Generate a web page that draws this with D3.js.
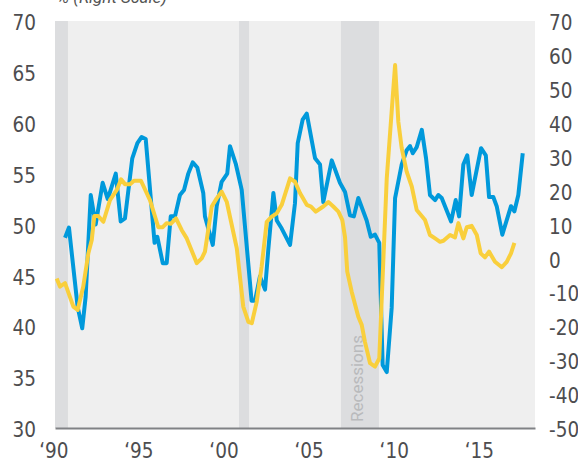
<!DOCTYPE html>
<html>
<head>
<meta charset="utf-8">
<script src="https://cdn.jsdelivr.net/npm/d3@7"></script>
<style>
  html, body { margin: 0; padding: 0; background: #fff; }
  svg { display: block; }
  .tick text { font-family: "Liberation Sans Narrow", "DejaVu Sans Condensed", "Roboto", sans-serif; font-size: 20.5px; fill: #4d4d4f; }
</style>
</head>
<body>
<div id="chart"></div>
<script>
// chart size
const width = 578;
const height = 461;

// quarterly readings, left scale (blue)
const blueYears = [1990.69, 1990.92, 1991.43, 1991.70, 1991.90, 1992.20, 1992.49, 1992.90, 1993.20, 1993.67,
  1993.96, 1994.21, 1994.64, 1994.94, 1995.19, 1995.43, 1995.95, 1996.11, 1996.43, 1996.66,
  1996.90, 1997.15, 1997.44, 1997.68, 1997.93, 1998.19, 1998.46, 1998.81, 1998.91, 1999.37,
  1999.60, 1999.89, 2000.22, 2000.38, 2000.73, 2001.07, 2001.65, 2001.85, 2002.14, 2002.44,
  2002.63, 2002.93, 2003.13, 2003.42, 2003.91, 2004.20, 2004.36, 2004.65, 2004.89, 2005.38,
  2005.67, 2005.86, 2006.36, 2006.84, 2007.14, 2007.43, 2007.66, 2007.92, 2008.41, 2008.65,
  2008.90, 2009.15, 2009.35, 2009.59, 2009.88, 2010.08, 2010.47, 2010.76, 2010.96, 2011.12,
  2011.35, 2011.65, 2011.90, 2012.13, 2012.43, 2012.62, 2012.82, 2013.37, 2013.64, 2013.84,
  2014.09, 2014.32, 2014.58, 2015.13, 2015.41, 2015.60, 2015.85, 2016.05, 2016.38, 2016.89,
  2017.09, 2017.32, 2017.58];
const blueValues = [48.7, 49.7, 41.9, 39.8, 42.9, 52.9, 50.0, 54.1, 52.5, 55.0,
  50.3, 50.6, 56.5, 58.0, 58.6, 58.4, 48.2, 48.8, 46.2, 46.2,
  50.8, 50.8, 52.9, 53.4, 55.0, 56.1, 55.6, 53.1, 50.8, 48.0,
  51.8, 54.2, 55.0, 57.7, 55.9, 53.4, 42.5, 42.5, 44.9, 43.6,
  47.5, 53.1, 50.4, 49.6, 48.0, 52.1, 58.0, 60.3, 60.9, 56.5,
  55.9, 52.2, 56.3, 54.1, 53.2, 50.9, 50.8, 52.6, 50.4, 48.8,
  49.0, 48.2, 36.2, 35.5, 41.8, 52.6, 55.9, 57.3, 57.7, 57.0,
  57.6, 59.3, 56.5, 52.9, 52.4, 52.9, 52.6, 50.3, 52.4, 50.8,
  55.9, 56.8, 52.9, 57.5, 56.8, 52.7, 52.7, 51.8, 49.0, 51.8,
  51.3, 52.9, 57.0];

// quarterly readings, right scale in % (gold)
const goldYears = [1990.20, 1990.39, 1990.69, 1991.18, 1991.43, 1991.76, 1992.06, 1992.26, 1992.41, 1992.64,
  1992.94, 1993.33, 1993.73, 1993.98, 1994.21, 1994.51, 1994.74, 1995.15, 1995.68, 1996.17,
  1996.43, 1996.66, 1996.90, 1997.21, 1997.54, 1997.84, 1998.43, 1998.72, 1998.91, 1999.31,
  1999.60, 1999.89, 2000.19, 2000.78, 2001.16, 2001.46, 2001.66, 2001.95, 2002.24, 2002.54,
  2002.83, 2003.13, 2003.42, 2003.91, 2004.20, 2004.50, 2004.89, 2005.14, 2005.42, 2005.86,
  2006.16, 2006.45, 2006.75, 2006.98, 2007.14, 2007.27, 2007.53, 2007.92, 2008.12, 2008.31,
  2008.61, 2008.90, 2009.15, 2009.59, 2010.08, 2010.27, 2010.47, 2010.76, 2011.06, 2011.35,
  2011.84, 2012.13, 2012.43, 2012.72, 2012.92, 2013.31, 2013.60, 2013.80, 2014.09, 2014.29,
  2014.58, 2014.88, 2015.11, 2015.36, 2015.60, 2015.95, 2016.35, 2016.64, 2016.89, 2017.09];
const goldValues = [-5.9, -8.3, -7.3, -14.2, -15.2, -8.3, 1.5, 5.4, 12.5, 12.5,
  10.8, 17.2, 20.2, 23.3, 21.9, 21.9, 22.9, 22.9, 17.2, 9.2,
  9.2, 10.4, 10.2, 11.8, 8.4, 5.9, -1.4, 0.0, 2.0, 15.3,
  17.7, 19.7, 16.7, 3.0, -14.2, -18.7, -19.1, -12.8, -2.4, 10.8,
  12.3, 13.3, 15.8, 23.6, 22.6, 19.2, 15.8, 15.3, 13.8, 15.3,
  16.6, 15.3, 13.8, 11.3, 6.2, -3.9, -9.8, -17.2, -19.6, -24.6,
  -30.9, -31.9, -29.5, 23.6, 57.0, 40.3, 32.5, 25.6, 21.2, 14.3,
  11.3, 6.9, 5.9, 4.9, 5.2, 6.9, 6.2, 10.4, 5.9, 9.2,
  9.6, 6.9, 1.5, 0.3, 2.0, -1.0, -2.6, -1.0, 1.5, 4.6];

// recession shading (start, end)
const recessionStarts = [1990.1, 2000.91, 2006.9];
const recessionEnds = [1990.86, 2001.5, 2009.13];

// tick labels
const leftTicks = [30, 35, 40, 45, 50, 55, 60, 65, 70];
const rightTicks = [-50, -40, -30, -20, -10, 0, 10, 20, 30, 40, 50, 60, 70];
const yearTicks = [1990, 1995, 2000, 2005, 2010, 2015];

// plot extent in years
const xMin = 1990.1;
const xMax = 2018.3;

const x = d3.scaleLinear().domain([xMin, xMax]).range([55, 535]);
const yLeft = d3.scaleLinear().domain([30, 70]).range([428, 21]);
const yRight = d3.scaleLinear().domain([-50, 70]).range([428, 21]);

const svg = d3.select("#chart")
    .append("svg")
    .attr("width", width)
    .attr("height", height);

// plot background
svg.append("rect")
    .attr("x", x(xMin))
    .attr("y", yLeft(70))
    .attr("width", x(xMax) - x(xMin))
    .attr("height", yLeft(30) - yLeft(70))
    .attr("fill", "#efefef");

// recession bands
svg.append("g")
    .selectAll("rect")
    .data(recessionStarts)
    .enter().append("rect")
    .attr("x", d => x(d))
    .attr("y", yLeft(70))
    .attr("width", (d, i) => x(recessionEnds[i]) - x(d))
    .attr("height", yLeft(30) - yLeft(70))
    .attr("fill", "#dcdddf");

// label in the last band
svg.append("text")
    .attr("transform", `translate(${x(2006.9) + 22},${yLeft(30) - 6}) rotate(-90)`)
    .attr("font-family", "Roboto, sans-serif")
    .attr("font-size", 17)
    .attr("fill", "#b9babc")
    .text("Recessions");

// header note, mostly cut off by the top edge
svg.append("text")
    .attr("x", 57)
    .attr("y", 3)
    .attr("font-family", "Roboto, sans-serif")
    .attr("font-style", "italic")
    .attr("font-size", 17)
    .attr("fill", "#555")
    .text("% (Right Scale)");

// axes
const leftAxis = svg.append("g")
    .attr("transform", `translate(${x(xMin)},0)`)
    .call(d3.axisLeft(yLeft).tickValues(leftTicks).tickSize(0).tickPadding(19));
leftAxis.select(".domain").remove();
leftAxis.selectAll("text").attr("dy", "0.42em");

// plain hyphen for negatives, as in the source
const rightAxis = svg.append("g")
    .attr("transform", `translate(${x(xMax)},0)`)
    .call(d3.axisRight(yRight).tickValues(rightTicks).tickSize(0).tickPadding(14)
        .tickFormat(d => String(d)));
rightAxis.select(".domain").remove();
rightAxis.selectAll("text").attr("dy", "0.42em");

const bottomAxis = svg.append("g")
    .attr("transform", `translate(0,${yLeft(30)})`)
    .call(d3.axisBottom(x).tickValues(yearTicks).tickSize(0).tickSizeOuter(0)
        .tickFormat(d => "\u2018" + String(d).slice(2)));
bottomAxis.select(".domain")
    .attr("stroke", "#808285")
    .attr("stroke-width", 2);
bottomAxis.selectAll("text").attr("y", 30).attr("dy", 0);

// lines
const blueLine = d3.line()
    .x((d, i) => x(blueYears[i]))
    .y(d => yLeft(d));

const goldLine = d3.line()
    .x((d, i) => x(goldYears[i]))
    .y(d => yRight(d));

svg.append("path")
    .attr("d", blueLine(blueValues))
    .attr("fill", "none")
    .attr("stroke", "#0099db")
    .attr("stroke-width", 4)
    .attr("stroke-linejoin", "round");

svg.append("path")
    .attr("d", goldLine(goldValues))
    .attr("fill", "none")
    .attr("stroke", "#f9cf3c")
    .attr("stroke-width", 4)
    .attr("stroke-linejoin", "round");
</script>
</body>
</html>
